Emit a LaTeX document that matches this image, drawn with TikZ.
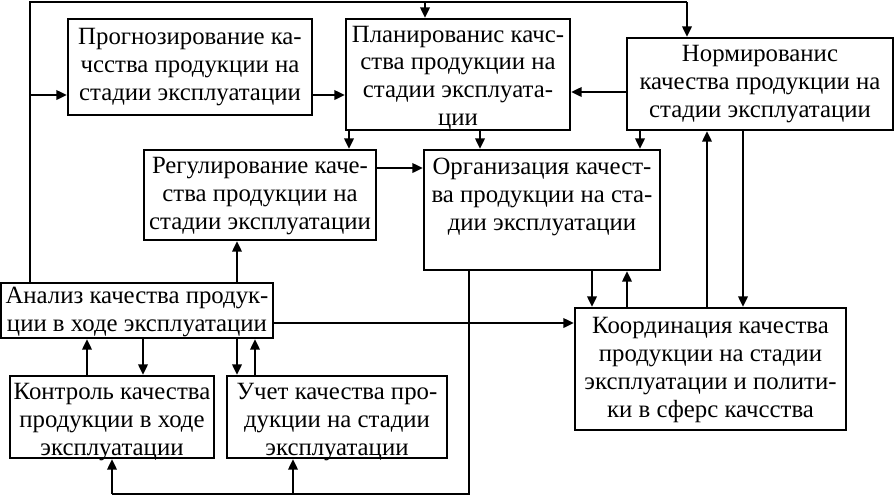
\documentclass[tikz,border=0pt]{standalone}
\usepackage{fontspec}
\setmainfont{Liberation Serif}
\usetikzlibrary{arrows.meta}
\begin{document}
\begin{tikzpicture}[x=0.75pt,y=-0.75pt,
  box/.style n args={2}{draw,line width=1.6pt,inner sep=0pt,
    minimum width={#1*0.75pt},minimum height={#2*0.75pt}},
  txt/.style={inner sep=0pt,align=center,
    font=\fontsize{18.6pt}{20.8pt}\selectfont},
  arr/.style={line width=2.2pt,-{Triangle[length=8pt,width=7pt]}},
  ln/.style={line width=2.2pt}]
\useasboundingbox (0,0) rectangle (894,497);
% boxes (centre, width, height)
\node[box={244}{96}] (P) at (190,67) {};
\node[box={224}{111}] (Pl) at (458,74.5) {};
\node[box={266}{92}] (N) at (760,84) {};
\node[box={232}{90}] (R) at (260,195) {};
\node[box={236}{120}] (O) at (542,210) {};
\node[box={272}{55}] (A) at (137,310.5) {};
\node[box={204}{82}] (K) at (112,417) {};
\node[box={220}{82}] (U) at (337,417) {};
\node[box={271}{122}] (C) at (710.5,369) {};
% texts
\node[txt] (Pt) at (190,67) {Прогнозирование ка-\\чсства продукции на\\стадии эксплуатации};
\node[txt] (Plt) at (458,78) {Планированис качс-\\ства продукции на\\стадии эксплуата-\\ции};
\node[txt] (Nt) at (760,84) {Нормированис\\качества продукции на\\стадии эксплуатации};
\node[txt] (Rt) at (260,196) {Регулирование каче-\\ства продукции на\\стадии эксплуатации};
\node[txt] (Ot) at (542,197) {Организация качест-\\ва продукции на ста-\\дии эксплуатации};
\node[txt] (At) at (137,312) {Анализ качества продук-\\ции в ходе эксплуатации};
\node[txt] (Kt) at (112,422) {Контроль качества\\продукции в ходе\\эксплуатации};
\node[txt] (Ut) at (337,422) {Учет качества про-\\дукции на стадии\\эксплуатации};
\node[txt] (Ct) at (710.5,370) {Координация качества\\продукции на стадии\\эксплуатации и полити-\\ки в сферс качсства};
% top feedback loop
\coordinate (tl) at (30,2);
\coordinate (tr) at (687,2);
\draw[ln] (30,0 |- A.north) -- (tl) -- (tr);
\draw[arr] (tr) -- (687,0 |- N.north);
\draw[arr] (425,2) -- (425,0 |- Pl.north);
\draw[arr] (30,95) -- (P.west |- 0,95);
% horizontal links
\draw[arr] (P.east |- 0,95) -- (Pl.west |- 0,95);
\draw[arr] (N.west |- 0,92) -- (Pl.east |- 0,92);
\draw[arr] (R.east |- 0,168) -- (O.west |- 0,168);
\draw[arr] (A.east |- 0,323) -- (C.west |- 0,323);
% vertical links
\draw[arr] (349,0 |- Pl.south) -- (349,0 |- R.north);
\draw[arr] (480,0 |- Pl.south) -- (480,0 |- O.north);
\draw[arr] (640,0 |- N.south) -- (640,0 |- O.north);
\draw[arr] (237,0 |- A.north) -- (237,0 |- R.south);
\draw[arr] (592,0 |- O.south) -- (592,0 |- C.north);
\draw[arr] (627,0 |- C.north) -- (627,0 |- O.south);
\draw[arr] (707,0 |- C.north) -- (707,0 |- N.south);
\draw[arr] (743,0 |- N.south) -- (743,0 |- C.north);
\draw[arr] (143,0 |- A.south) -- (143,0 |- K.north);
\draw[arr] (87,0 |- K.north) -- (87,0 |- A.south);
\draw[arr] (237,0 |- A.south) -- (237,0 |- U.north);
\draw[arr] (255,0 |- U.north) -- (255,0 |- A.south);
% bottom loop
\coordinate (br) at (469,494);
\coordinate (bl) at (112,494);
\draw[ln] (469,0 |- O.south) -- (br) -- (bl);
\draw[arr] (bl) -- (112,0 |- K.south);
\draw[arr] (293,494) -- (293,0 |- U.south);
\end{tikzpicture}
\end{document}
